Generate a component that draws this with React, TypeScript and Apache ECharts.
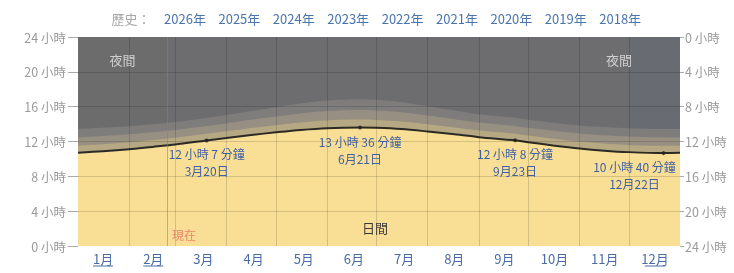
import React, { useEffect, useRef } from "react";
import * as echarts from "echarts";

const months = ["1月", "2月", "3月", "4月", "5月", "6月", "7月", "8月", "9月", "10月", "11月", "12月"];
const underlinedMonths = ["1月", "2月", "12月"];
const historyLabel = "歷史：";
const years = ["2026年", "2025年", "2024年", "2023年", "2022年", "2021年", "2020年", "2019年", "2018年"];
const hourTicks = [0, 4, 8, 12, 16, 20, 24];

// day of year (0 = Jan 1)
const dayOfYear = [0, 15, 31, 45, 59, 78, 90, 105, 120, 135, 151, 171, 181, 196, 212, 227, 243, 265, 273, 288, 304, 319, 334, 355, 365];
const daylightHours = [10.72, 10.87, 11.1, 11.38, 11.65, 12.12, 12.4, 12.75, 13.05, 13.32, 13.52, 13.6, 13.57, 13.43, 13.15, 12.85, 12.5, 12.13, 11.92, 11.55, 11.2, 10.95, 10.78, 10.67, 10.7];
const civilTwilight = [0.82, 0.82, 0.8, 0.78, 0.77, 0.76, 0.77, 0.8, 0.83, 0.87, 0.9, 0.92, 0.91, 0.88, 0.84, 0.8, 0.77, 0.76, 0.76, 0.77, 0.79, 0.81, 0.82, 0.83, 0.82];
const nauticalTwilight = [0.95, 0.95, 0.93, 0.91, 0.9, 0.9, 0.91, 0.94, 0.98, 1.03, 1.07, 1.09, 1.08, 1.04, 0.99, 0.94, 0.91, 0.9, 0.9, 0.91, 0.93, 0.95, 0.96, 0.96, 0.95];
const astroTwilight = [0.96, 0.95, 0.93, 0.92, 0.92, 0.93, 0.95, 1.0, 1.07, 1.15, 1.22, 1.25, 1.24, 1.17, 1.08, 1.0, 0.95, 0.93, 0.92, 0.92, 0.93, 0.95, 0.96, 0.97, 0.96];

const monthStarts = [31, 59, 90, 120, 151, 181, 212, 243, 273, 304, 334];
const nowDay = 54;
const nowLabel = "現在";
const decShadeStart = 334;

const highlightDays = [78, 171, 265, 355];
const highlightHours = [12.117, 13.6, 12.133, 10.667];
const highlightDurations = ["12 小時 7 分鐘", "13 小時 36 分鐘", "12 小時 8 分鐘", "10 小時 40 分鐘"];
const highlightDates = ["3月20日", "6月21日", "9月23日", "12月22日"];

const nightLabel = "夜間";
const dayLabel = "日間";

const FONT = '"Noto Sans CJK TC", "Noto Sans", sans-serif';

export default function App() {
  const ref = useRef<HTMLDivElement>(null);

  useEffect(() => {
    if (!ref.current) return;
    const chart = echarts.init(ref.current, undefined, { renderer: "svg" });

    // cumulative tops of each band (drawn from the top band down, each filling to 0)
    const civilTop = daylightHours.map((v, i) => v + civilTwilight[i]);
    const nauticalTop = civilTop.map((v, i) => v + nauticalTwilight[i]);
    const astroTop = nauticalTop.map((v, i) => v + astroTwilight[i]);

    const mk = (vals: number[]) => dayOfYear.map((d, i) => [d, vals[i]]);

    const bandSeries = (name: string, vals: number[], color: string, z: number, extra: any = {}) => ({
      name,
      type: "line",
      smooth: 0.3,
      symbol: "none",
      data: mk(vals),
      lineStyle: { width: 0 },
      areaStyle: { color, opacity: 1, origin: "start" },
      z,
      ...extra,
    });

    const gridLineStyle = { color: "rgba(0,0,0,0.14)", width: 1, type: "solid" };

    const option: any = {
      animation: false,
      textStyle: { fontFamily: FONT },
      grid: {
        left: 78,
        right: 54,
        top: 37,
        bottom: 27,
        show: true,
        backgroundColor: "#6d6d70",
        borderWidth: 0,
      },
      xAxis: [
        { type: "value", min: 0, max: 365, show: false },
        {
          type: "category",
          data: months,
          position: "bottom",
          boundaryGap: true,
          axisLine: { show: false },
          axisTick: { show: false },
          splitLine: { show: false },
          axisLabel: { color: "#4a6ca3", fontSize: 13, margin: 6, fontFamily: FONT },
        },
      ],
      yAxis: [
        {
          type: "value",
          min: 0,
          max: 24,
          interval: 4,
          position: "left",
          axisLine: { show: false },
          axisTick: { show: true, length: 10, lineStyle: { color: "#aaa" } },
          splitLine: { show: false },
          axisLabel: { color: "#9a9a9a", fontSize: 12.5, margin: 12, formatter: "{value} 小時", fontFamily: FONT },
        },
        {
          type: "value",
          min: 0,
          max: 24,
          interval: 4,
          inverse: true,
          position: "right",
          axisLine: { show: false },
          axisTick: { show: true, length: 4, lineStyle: { color: "#aaa" } },
          splitLine: { show: false },
          axisLabel: { color: "#9a9a9a", fontSize: 12.5, margin: 5, formatter: "{value} 小時", fontFamily: FONT },
        },
      ],
      series: [
        bandSeries("astro", astroTop, "#7f7d7c", 1),
        bandSeries("nautical", nauticalTop, "#978f81", 2),
        bandSeries("civil", civilTop, "#b6a883", 3),
        bandSeries("日間", daylightHours, "#f8df95", 4, {
          lineStyle: { color: "#2b2a25", width: 2 },
          markArea: {
            silent: true,
            data: [
              [{ xAxis: 0, itemStyle: { color: "rgba(120,95,60,0.07)" } }, { xAxis: nowDay }],
              [{ xAxis: decShadeStart, itemStyle: { color: "rgba(80,100,150,0.10)" } }, { xAxis: 365 }],
            ],
          },
          markLine: {
            silent: true,
            symbol: ["none", "none"],
            label: { show: false },
            lineStyle: gridLineStyle,
            data: [
              ...monthStarts.map((d) => ({ xAxis: d })),
              ...hourTicks.filter((h) => h > 0 && h < 24).map((h) => ({ yAxis: h })),
              { xAxis: nowDay, lineStyle: { color: "rgba(215,95,95,0.55)", width: 1, type: "solid" } },
            ],
          },
        }),
        {
          name: "highlights",
          type: "scatter",
          symbol: "circle",
          symbolSize: 4,
          itemStyle: { color: "#222" },
          z: 6,
          data: highlightDays.map((d, i) => [d, highlightHours[i]]),
        },
      ],
    };

    chart.setOption(option);

    const px = (d: number, h: number) => chart.convertToPixel({ xAxisIndex: 0, yAxisIndex: 0 }, [d, h]) as number[];
    const graphics: any[] = [];
    const txt = (x: number, y: number, text: string, fill: string, size: number, align = "center") => ({
      type: "text",
      x,
      y,
      z: 10,
      style: { text, fill, font: `${size}px ${FONT}`, align, verticalAlign: "middle" },
    });
    graphics.push(txt(131, 18, historyLabel, "#a8a8a8", 13));
    years.forEach((y, i) => graphics.push(txt(185 + i * 54.4, 18, y, "#4a74ad", 13)));

    highlightDays.forEach((d, i) => {
      const p = px(d, highlightHours[i]);
      const shift = i === highlightDays.length - 1 ? -29 : 0;
      graphics.push(txt(p[0] + shift, p[1] + 13.5, highlightDurations[i], "#3f5fa3", 12));
      graphics.push(txt(p[0] + shift, p[1] + 30.5, highlightDates[i], "#3f5fa3", 12));
    });

    const n1 = px(27, 21.4);
    const n2 = px(328, 21.4);
    const dl = px(180, 2.07);
    graphics.push(txt(n1[0], n1[1], nightLabel, "#cfcfcf", 13));
    graphics.push(txt(n2[0], n2[1], nightLabel, "#cfcfcf", 13));
    graphics.push(txt(dl[0], dl[1], dayLabel, "#3a3a3a", 13));
    const nowP = px(nowDay, 1.3);
    graphics.push(txt(nowP[0] + 5, nowP[1], nowLabel, "#e8866c", 12, "left"));

    underlinedMonths.forEach((m) => {
      const cx = chart.convertToPixel({ xAxisIndex: 1 }, m) as number;
      graphics.push({
        type: "line",
        shape: { x1: cx - 10, y1: 266, x2: cx + 10, y2: 266 },
        style: { stroke: "#4a6ca3", lineWidth: 1 },
      });
    });
    chart.setOption({ graphic: graphics });

    return () => chart.dispose();
  }, []);

  return <div ref={ref} style={{ position: "fixed", left: 0, top: 0, width: 734, height: 273 }} />;
}
